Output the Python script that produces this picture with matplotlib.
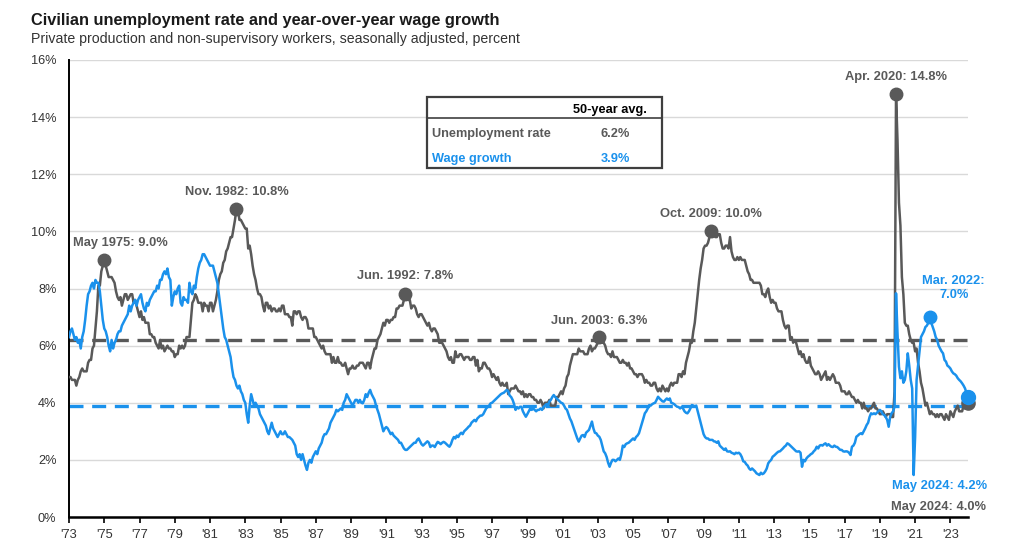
import numpy as np
import matplotlib
matplotlib.use("Agg")
import matplotlib.pyplot as plt
from matplotlib.patches import Rectangle
from matplotlib.lines import Line2D

# ---------------- data ----------------
start_year, start_month = 1973, 5   # first monthly observation (May 1973)

# Civilian unemployment rate, monthly, May 1973 .. May 2024 (percent)
unemployment = [
    4.9, 4.9, 4.8, 4.8, 4.8, 4.6, 4.8, 4.9,
    5.1, 5.2, 5.1, 5.1, 5.1, 5.4, 5.5, 5.5, 5.9, 6.0, 6.6, 7.2,
    8.1, 8.1, 8.6, 8.8, 9.0, 8.8, 8.6, 8.4, 8.4, 8.4, 8.3, 8.2,
    7.9, 7.7, 7.6, 7.7, 7.4, 7.6, 7.8, 7.8, 7.6, 7.7, 7.8, 7.8,
    7.5, 7.6, 7.4, 7.2, 7.0, 7.2, 6.9, 7.0, 6.8, 6.8, 6.8, 6.4,
    6.4, 6.3, 6.3, 6.1, 6.0, 5.9, 6.2, 5.9, 6.0, 5.8, 5.9, 6.0,
    5.9, 5.9, 5.8, 5.8, 5.6, 5.7, 5.7, 6.0, 5.9, 6.0, 5.9, 6.0,
    6.3, 6.3, 6.3, 6.9, 7.5, 7.6, 7.8, 7.7, 7.5, 7.5, 7.5, 7.2,
    7.5, 7.4, 7.4, 7.2, 7.5, 7.5, 7.2, 7.4, 7.6, 7.9, 8.3, 8.5,
    8.6, 8.9, 9.0, 9.3, 9.4, 9.6, 9.8, 9.8, 10.1, 10.4, 10.8, 10.8,
    10.4, 10.4, 10.3, 10.2, 10.1, 10.1, 9.4, 9.5, 9.2, 8.8, 8.5, 8.3,
    8.0, 7.8, 7.8, 7.7, 7.4, 7.2, 7.5, 7.5, 7.3, 7.4, 7.2, 7.3,
    7.3, 7.2, 7.2, 7.3, 7.2, 7.4, 7.4, 7.1, 7.1, 7.1, 7.0, 7.0,
    6.7, 7.2, 7.2, 7.1, 7.2, 7.2, 7.0, 6.9, 7.0, 7.0, 6.9, 6.6,
    6.6, 6.6, 6.6, 6.3, 6.3, 6.2, 6.1, 6.0, 5.9, 6.0, 5.8, 5.7,
    5.7, 5.7, 5.7, 5.4, 5.6, 5.4, 5.4, 5.6, 5.4, 5.4, 5.3, 5.3,
    5.4, 5.2, 5.0, 5.2, 5.2, 5.3, 5.2, 5.2, 5.3, 5.3, 5.4, 5.4,
    5.4, 5.3, 5.2, 5.4, 5.4, 5.2, 5.5, 5.7, 5.9, 5.9, 6.2, 6.3,
    6.4, 6.6, 6.8, 6.7, 6.9, 6.9, 6.8, 6.9, 6.9, 7.0, 7.0, 7.3,
    7.3, 7.4, 7.4, 7.4, 7.6, 7.8, 7.7, 7.6, 7.6, 7.3, 7.4, 7.4,
    7.3, 7.1, 7.0, 7.1, 7.1, 7.0, 6.9, 6.8, 6.7, 6.8, 6.6, 6.5,
    6.6, 6.6, 6.5, 6.4, 6.1, 6.1, 6.1, 6.0, 5.9, 5.8, 5.6, 5.5,
    5.6, 5.4, 5.4, 5.8, 5.6, 5.6, 5.7, 5.7, 5.6, 5.5, 5.6, 5.6,
    5.6, 5.5, 5.5, 5.6, 5.6, 5.3, 5.5, 5.1, 5.2, 5.2, 5.4, 5.4,
    5.3, 5.2, 5.2, 5.1, 4.9, 5.0, 4.9, 4.8, 4.9, 4.7, 4.6, 4.7,
    4.6, 4.6, 4.7, 4.3, 4.4, 4.5, 4.5, 4.5, 4.6, 4.5, 4.4, 4.4,
    4.3, 4.4, 4.2, 4.3, 4.2, 4.3, 4.3, 4.2, 4.2, 4.1, 4.1, 4.0,
    4.0, 4.1, 4.0, 3.8, 4.0, 4.0, 4.0, 4.1, 3.9, 3.9, 3.9, 3.9,
    4.2, 4.2, 4.3, 4.4, 4.3, 4.5, 4.6, 4.9, 5.0, 5.3, 5.5, 5.7,
    5.7, 5.7, 5.7, 5.9, 5.8, 5.8, 5.8, 5.7, 5.7, 5.7, 5.9, 6.0,
    5.8, 5.9, 5.9, 6.0, 6.1, 6.3, 6.2, 6.1, 6.1, 6.0, 5.8, 5.7,
    5.7, 5.6, 5.8, 5.6, 5.6, 5.6, 5.5, 5.4, 5.4, 5.5, 5.4, 5.4,
    5.3, 5.4, 5.2, 5.2, 5.1, 5.0, 5.0, 4.9, 5.0, 5.0, 5.0, 4.9,
    4.7, 4.8, 4.7, 4.7, 4.6, 4.6, 4.7, 4.7, 4.5, 4.4, 4.5, 4.4,
    4.6, 4.5, 4.4, 4.5, 4.4, 4.6, 4.7, 4.6, 4.7, 4.7, 4.7, 5.0,
    5.0, 4.9, 5.1, 5.0, 5.4, 5.6, 5.8, 6.1, 6.1, 6.5, 6.8, 7.3,
    7.8, 8.3, 8.7, 9.0, 9.4, 9.5, 9.5, 9.6, 9.8, 10.0, 9.9, 9.9,
    9.8, 9.8, 9.9, 9.9, 9.6, 9.4, 9.4, 9.5, 9.5, 9.4, 9.8, 9.3,
    9.1, 9.0, 9.0, 9.1, 9.0, 9.1, 9.0, 9.0, 9.0, 8.8, 8.6, 8.5,
    8.3, 8.3, 8.2, 8.2, 8.2, 8.2, 8.2, 8.1, 7.8, 7.8, 7.7, 7.9,
    8.0, 7.7, 7.5, 7.6, 7.5, 7.5, 7.3, 7.2, 7.2, 7.2, 6.9, 6.7,
    6.6, 6.7, 6.7, 6.2, 6.3, 6.1, 6.2, 6.1, 5.9, 5.7, 5.8, 5.6,
    5.7, 5.5, 5.4, 5.4, 5.6, 5.3, 5.2, 5.1, 5.0, 5.0, 5.1, 5.0,
    4.8, 4.9, 5.0, 5.1, 4.8, 4.9, 4.8, 4.9, 5.0, 4.9, 4.7, 4.7,
    4.7, 4.6, 4.4, 4.4, 4.4, 4.3, 4.3, 4.4, 4.3, 4.2, 4.2, 4.1,
    4.0, 4.1, 4.0, 4.0, 3.8, 4.0, 3.8, 3.8, 3.7, 3.8, 3.8, 3.9,
    4.0, 3.8, 3.8, 3.7, 3.6, 3.6, 3.7, 3.6, 3.5, 3.6, 3.6, 3.6,
    3.5, 3.5, 4.4, 14.8, 13.2, 11.0, 10.2, 8.4, 7.8, 6.8, 6.7, 6.7,
    6.4, 6.2, 6.1, 6.1, 5.8, 5.9, 5.4, 5.1, 4.7, 4.5, 4.2, 3.9,
    4.0, 3.8, 3.6, 3.7, 3.6, 3.6, 3.5, 3.6, 3.5, 3.6, 3.6, 3.5,
    3.4, 3.6, 3.5, 3.4, 3.7, 3.6, 3.5, 3.7, 3.8, 3.9, 3.7, 3.7,
    3.7, 3.9, 3.8, 3.9, 4.0,
]

# Year-over-year wage growth, production & non-supervisory workers, May 1973 .. May 2024
wage_growth = [
    6.3, 6.5, 6.6, 6.4, 6.2, 6.3, 6.1, 6.2,
    5.9, 6.3, 6.5, 6.9, 7.4, 7.8, 7.9, 8.1, 8.2, 8.0, 8.3, 8.2,
    8.2, 7.9, 7.4, 6.9, 6.6, 6.5, 6.3, 6.0, 5.8, 6.2, 5.9, 6.1,
    6.2, 6.4, 6.5, 6.5, 6.7, 6.8, 6.9, 7.0, 7.1, 7.4, 7.2, 7.4,
    7.5, 7.6, 7.4, 7.6, 7.7, 7.8, 7.5, 7.3, 7.2, 7.5, 7.4, 7.6,
    7.7, 7.8, 7.9, 7.9, 8.1, 8.0, 8.3, 8.3, 8.5, 8.6, 8.5, 8.7,
    8.4, 8.3, 7.4, 7.7, 7.9, 7.8, 8.0, 8.1, 7.5, 7.4, 7.7, 7.6,
    7.6, 7.5, 8.2, 7.9, 7.8, 8.1, 8.0, 8.4, 8.7, 8.9, 9.0, 9.2,
    9.2, 9.1, 9.0, 8.9, 8.8, 8.8, 8.8, 8.6, 8.4, 8.2, 7.8, 7.4,
    7.0, 6.6, 6.3, 6.2, 6.0, 5.8, 5.6, 5.2, 4.9, 4.8, 4.6, 4.5,
    4.6, 4.4, 4.3, 4.1, 4.0, 3.6, 3.3, 3.9, 4.3, 4.1, 3.9, 4.0,
    3.9, 3.8, 3.6, 3.5, 3.4, 3.3, 3.2, 3.0, 2.9, 3.1, 3.3, 3.1,
    3.0, 2.9, 2.8, 2.9, 3.0, 2.9, 2.9, 3.0, 2.9, 2.8, 2.8, 2.75,
    2.7, 2.6, 2.5, 2.2, 2.1, 2.2, 2.0, 2.2, 2.0, 1.8, 1.65, 1.9,
    2.0, 1.9, 2.1, 2.2, 2.3, 2.2, 2.4, 2.5, 2.6, 2.8, 2.9, 2.9,
    3.0, 3.1, 3.3, 3.4, 3.5, 3.6, 3.75, 3.7, 3.75, 3.8, 3.75, 4.0,
    4.1, 4.3, 4.2, 4.1, 4.0, 3.9, 4.0, 4.1, 4.1, 4.0, 4.1, 4.0,
    3.98, 4.1, 4.3, 4.2, 4.35, 4.45, 4.3, 4.2, 4.1, 3.9, 3.75, 3.6,
    3.4, 3.2, 3.0, 3.1, 3.15, 3.1, 3.0, 2.9, 2.95, 2.85, 2.8, 2.75,
    2.7, 2.6, 2.6, 2.5, 2.4, 2.35, 2.35, 2.4, 2.45, 2.5, 2.55, 2.6,
    2.6, 2.7, 2.75, 2.65, 2.55, 2.5, 2.55, 2.6, 2.65, 2.6, 2.45, 2.5,
    2.5, 2.45, 2.55, 2.63, 2.6, 2.55, 2.6, 2.63, 2.6, 2.55, 2.5, 2.46,
    2.55, 2.7, 2.8, 2.75, 2.85, 2.8, 2.9, 2.95, 2.9, 3.0, 3.05, 3.1,
    3.16, 3.2, 3.3, 3.35, 3.4, 3.35, 3.45, 3.5, 3.55, 3.55, 3.6, 3.7,
    3.8, 3.85, 3.9, 3.98, 4.0, 4.05, 4.1, 4.15, 4.2, 4.25, 4.3, 4.33,
    4.35, 4.4, 4.45, 4.4, 4.25, 4.2, 4.1, 3.95, 3.75, 3.85, 3.8, 3.86,
    3.86, 3.7, 3.6, 3.51, 3.6, 3.7, 3.8, 3.75, 3.8, 3.75, 3.7, 3.75,
    3.75, 3.8, 3.75, 3.85, 3.9, 3.95, 3.9, 4.04, 4.1, 4.2, 4.27, 4.2,
    4.15, 4.1, 4.05, 4.0, 3.98, 3.9, 3.8, 3.75, 3.6, 3.45, 3.35, 3.2,
    3.04, 2.9, 2.75, 2.64, 2.75, 2.85, 2.87, 2.8, 2.95, 3.0, 3.05, 3.2,
    3.34, 3.1, 2.95, 2.93, 2.85, 2.81, 2.7, 2.5, 2.3, 2.23, 2.1, 1.9,
    1.76, 1.9, 2.0, 2.0, 1.95, 2.0, 2.05, 2.0, 2.2, 2.5, 2.45, 2.55,
    2.58, 2.6, 2.65, 2.7, 2.75, 2.7, 2.8, 2.85, 2.93, 3.1, 3.27, 3.45,
    3.63, 3.7, 3.8, 3.92, 3.9, 3.95, 3.98, 4.0, 4.1, 4.21, 4.15, 4.1,
    4.05, 4.04, 4.1, 4.15, 4.1, 4.15, 4.0, 3.98, 3.95, 3.9, 3.86, 3.85,
    3.8, 3.85, 3.8, 3.7, 3.65, 3.63, 3.7, 3.8, 3.92, 3.9, 3.86, 3.9,
    3.7, 3.51, 3.3, 3.1, 2.9, 2.8, 2.75, 2.75, 2.7, 2.7, 2.7, 2.65,
    2.64, 2.6, 2.65, 2.5, 2.45, 2.4, 2.35, 2.4, 2.3, 2.29, 2.3, 2.25,
    2.23, 2.2, 2.25, 2.23, 2.25, 2.2, 2.1, 1.95, 1.93, 1.85, 1.8, 1.7,
    1.65, 1.7, 1.65, 1.6, 1.53, 1.5, 1.47, 1.55, 1.5, 1.53, 1.6, 1.7,
    1.88, 1.95, 2.0, 2.11, 2.15, 2.2, 2.25, 2.29, 2.3, 2.35, 2.4, 2.46,
    2.5, 2.58, 2.55, 2.5, 2.45, 2.4, 2.35, 2.3, 2.29, 2.3, 2.25, 1.76,
    2.0, 1.95, 2.05, 2.11, 2.15, 2.2, 2.23, 2.3, 2.35, 2.46, 2.4, 2.5,
    2.52, 2.5, 2.55, 2.58, 2.5, 2.55, 2.5, 2.46, 2.45, 2.5, 2.46, 2.45,
    2.4, 2.35, 2.35, 2.3, 2.29, 2.3, 2.29, 2.25, 2.17, 2.46, 2.5, 2.6,
    2.81, 2.85, 2.9, 2.93, 2.9, 3.0, 3.1, 3.22, 3.3, 3.5, 3.63, 3.6,
    3.63, 3.6, 3.65, 3.7, 3.75, 3.7, 3.6, 3.57, 3.5, 3.4, 3.16, 3.5,
    3.63, 3.7, 3.86, 7.83, 6.44, 5.26, 4.86, 5.1, 4.7, 4.8, 5.1, 5.73,
    5.3, 4.8, 4.5, 1.47, 2.8, 4.8, 5.3, 5.8, 6.3, 6.4, 6.5, 6.65,
    6.7, 6.8, 7.0, 6.8, 6.65, 6.5, 6.3, 6.2, 6.0, 5.9, 5.8, 5.73,
    5.5, 5.44, 5.3, 5.26, 5.2, 5.1, 5.03, 5.0, 4.95, 4.86, 4.8, 4.75,
    4.68, 4.6, 4.5, 4.33, 4.2,
]

avg_unemployment = 6.2
avg_wage = 3.9

# callouts on the unemployment line (year, month)
unemp_callouts = ["May 1975: 9.0%", "Nov. 1982: 10.8%", "Jun. 1992: 7.8%",
                  "Jun. 2003: 6.3%", "Oct. 2009: 10.0%", "Apr. 2020: 14.8%"]
unemp_callout_dates = [(1975, 5), (1982, 11), (1992, 6), (2003, 6), (2009, 10), (2020, 4)]
wage_callout = "Mar. 2022:\n7.0%"
wage_callout_date = (2022, 3)
latest_wage_label = "May 2024: 4.2%"
latest_unemp_label = "May 2024: 4.0%"

year_ticks = list(range(1973, 2024, 2))
tick_labels = ["'" + str(y)[2:] for y in year_ticks]

title = "Civilian unemployment rate and year-over-year wage growth"
subtitle = "Private production and non-supervisory workers, seasonally adjusted, percent"

# ---------------- styling ----------------
GRAY = "#595959"
BLUE = "#1a91ec"
FONT = "Liberation Sans"
plt.rcParams["font.family"] = [FONT, "DejaVu Sans"]

W, H = 1030, 558
fig = plt.figure(figsize=(W / 100, H / 100), dpi=100)
ax = fig.add_axes([69 / W, 1 - 517 / H, (968 - 69) / W, (517 - 60) / H])


def to_x(year, month):
    return year + (month - 1) / 12.0


def idx(year, month):
    return (year - start_year) * 12 + (month - start_month)


x0 = to_x(start_year, start_month)
t_u = x0 + np.arange(len(unemployment)) / 12.0
t_w = x0 + np.arange(len(wage_growth)) / 12.0

ax.set_xlim(x0, t_u[-1])
ax.set_ylim(0, 16)

# grid
ax.set_yticks(np.arange(0, 17, 2))
ax.yaxis.grid(True, color="#d9d9d9", lw=1.0)
ax.set_axisbelow(True)

# averages
ax.axhline(avg_unemployment, color=GRAY, lw=2.4, dashes=(4.2, 2.6), zorder=2)
ax.axhline(avg_wage, color=BLUE, lw=2.4, dashes=(4.2, 2.6), zorder=2)

# series
ax.plot(t_u, unemployment, color=GRAY, lw=1.8, zorder=3, solid_joinstyle="round")
ax.plot(t_w, wage_growth, color=BLUE, lw=1.8, zorder=4, solid_joinstyle="round")

# callouts on unemployment
offsets_u = [(16, 17), (0, 16.5), (0, 18), (0, 16.5), (0, 17), (0, 17)]
for lab, (yy, mm), (dx, dy) in zip(unemp_callouts, unemp_callout_dates, offsets_u):
    xv, yv = to_x(yy, mm), unemployment[idx(yy, mm)]
    ax.plot([xv], [yv], "o", color=GRAY, ms=9, zorder=5)
    ax.annotate(lab, xy=(xv, yv), xytext=(dx, dy), textcoords="offset pixels",
                ha="center", va="center", fontsize=9.3, fontweight="bold", color=GRAY,
                zorder=6)

# wage callout
yy, mm = wage_callout_date
xv, yv = to_x(yy, mm), wage_growth[idx(yy, mm)]
ax.plot([xv], [yv], "o", color=BLUE, ms=9, zorder=5)
ax.annotate(wage_callout, xy=(xv, yv), xytext=(24, 29), textcoords="offset pixels",
            ha="center", va="center", fontsize=9.3, fontweight="bold", color=BLUE,
            linespacing=1.25, annotation_clip=False)

# latest points
ax.plot([t_u[-1]], [unemployment[-1]], "o", color=GRAY, ms=9.5, zorder=5, clip_on=False)
ax.plot([t_w[-1]], [wage_growth[-1]], "o", color=BLUE, ms=10, zorder=6, clip_on=False)
ax.annotate(latest_wage_label, xy=(t_w[-1], wage_growth[-1]), xytext=(-28, -89),
            textcoords="offset pixels", ha="center", va="center", fontsize=9.3,
            fontweight="bold", color=BLUE, annotation_clip=False)
ax.annotate(latest_unemp_label, xy=(t_u[-1], unemployment[-1]), xytext=(-30, -104),
            textcoords="offset pixels", ha="center", va="center", fontsize=9.3,
            fontweight="bold", color=GRAY, annotation_clip=False)

# axes & ticks
ax.set_xticks([to_x(y, start_month) for y in year_ticks])
ax.set_xticklabels(tick_labels)
ax.set_yticklabels([f"{v}%" for v in range(0, 17, 2)])
ax.tick_params(axis="x", length=4, width=1.2, color="black", pad=5, labelsize=9.3,
               labelcolor="#333333")
ax.tick_params(axis="y", length=0, pad=9, labelsize=9.2, labelcolor="#333333")
for s in ["top", "right"]:
    ax.spines[s].set_visible(False)
ax.spines["left"].set_linewidth(1.4)
ax.spines["bottom"].set_linewidth(1.8)
ax.spines["left"].set_color("black")
ax.spines["bottom"].set_color("black")

# titles
fig.text(31 / W, 1 - 25 / H, title, fontsize=11.8, fontweight="bold", color="#1a1a1a",
         va="baseline", ha="left")
fig.text(31 / W, 1 - 43 / H, subtitle, fontsize=10.2, color="#333333",
         va="baseline", ha="left")

# summary table
def P(x, y):
    return (x / W, 1 - y / H)

bx0, by0, bx1, by1 = 427, 97, 662, 168
box = Rectangle(P(bx0, by1), (bx1 - bx0) / W, (by1 - by0) / H, transform=fig.transFigure,
                facecolor="white", edgecolor="#3f3f3f", lw=1.6, zorder=10)
fig.add_artist(box)
fig.add_artist(Line2D([bx0 / W, bx1 / W], [1 - 118 / H, 1 - 118 / H],
                      transform=fig.transFigure, color="#3f3f3f", lw=1.2, zorder=11))
fig.text(*P(610, 110), "50-year avg.", ha="center", va="center", fontsize=9.2,
         fontweight="bold", color="black", zorder=12)
fig.text(*P(432, 134), "Unemployment rate", ha="left", va="center", fontsize=9.2,
         fontweight="bold", color=GRAY, zorder=12)
fig.text(*P(615, 134), f"{avg_unemployment}%", ha="center", va="center", fontsize=9.2,
         fontweight="bold", color=GRAY, zorder=12)
fig.text(*P(432, 159), "Wage growth", ha="left", va="center", fontsize=9.2,
         fontweight="bold", color=BLUE, zorder=12)
fig.text(*P(615, 159), f"{avg_wage}%", ha="center", va="center", fontsize=9.2,
         fontweight="bold", color=BLUE, zorder=12)

fig.savefig("out.png", dpi=100)
